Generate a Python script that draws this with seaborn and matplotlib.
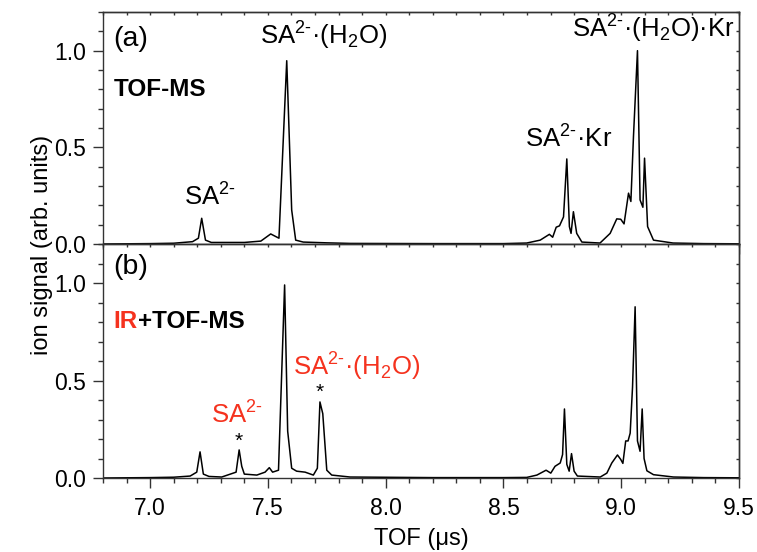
import matplotlib
matplotlib.use("Agg")
import matplotlib.pyplot as plt
import seaborn as sns
import pandas as pd
from matplotlib.ticker import MultipleLocator, NullFormatter

# ---- data ----
tof_a = [6.80, 7.00, 7.10, 7.18, 7.205, 7.219, 7.235, 7.26, 7.40, 7.47, 7.512, 7.547,
         7.58, 7.601, 7.618, 7.65, 7.75, 7.85, 8.20, 8.50, 8.599, 8.656, 8.695, 8.709,
         8.724, 8.738, 8.755, 8.769, 8.780, 8.787, 8.797, 8.811, 8.833, 8.91, 8.953,
         8.981, 8.998, 9.012, 9.031, 9.041, 9.052, 9.069, 9.080, 9.092, 9.099, 9.112,
         9.137, 9.22, 9.35, 9.50]
sig_a = [0.0, 0.002, 0.004, 0.012, 0.03, 0.133, 0.02, 0.008, 0.008, 0.015, 0.052, 0.03,
         0.948, 0.176, 0.02, 0.01, 0.006, 0.003, 0.002, 0.002, 0.005, 0.02, 0.05, 0.035,
         0.087, 0.094, 0.14, 0.44, 0.09, 0.055, 0.167, 0.055, 0.01, 0.005, 0.055,
         0.13, 0.128, 0.104, 0.263, 0.22, 0.556, 1.0, 0.228, 0.19, 0.444, 0.09,
         0.02, 0.005, 0.002, 0.001]

tof_b = [6.80, 7.00, 7.10, 7.17, 7.198, 7.212, 7.226, 7.25, 7.304, 7.365, 7.378, 7.389,
         7.40, 7.453, 7.488, 7.506, 7.52, 7.545, 7.571, 7.584, 7.601, 7.622, 7.658,
         7.693, 7.710, 7.721, 7.733, 7.75, 7.771, 7.849, 8.20, 8.50, 8.599, 8.642,
         8.681, 8.701, 8.719, 8.741, 8.751, 8.759, 8.769, 8.779, 8.789, 8.80, 8.814,
         8.911, 8.939, 8.96, 8.984, 8.998, 9.007, 9.019, 9.029, 9.038, 9.048, 9.059,
         9.069, 9.08, 9.089, 9.097, 9.109, 9.137, 9.222, 9.35, 9.50]
sig_b = [0.0, 0.002, 0.004, 0.01, 0.03, 0.134, 0.02, 0.008, 0.005, 0.03, 0.144, 0.06,
         0.02, 0.015, 0.03, 0.053, 0.03, 0.04, 0.99, 0.24, 0.05, 0.035, 0.03,
         0.015, 0.05, 0.39, 0.33, 0.04, 0.015, 0.005, 0.002, 0.002, 0.003, 0.015,
         0.04, 0.025, 0.06, 0.077, 0.12, 0.354, 0.07, 0.035, 0.125, 0.035, 0.01,
         0.005, 0.025, 0.077, 0.118, 0.095, 0.075, 0.19, 0.19, 0.23, 0.466, 0.878,
         0.19, 0.137, 0.354, 0.1, 0.037, 0.017, 0.005, 0.002, 0.001]

x_ticks = [7.0, 7.5, 8.0, 8.5, 9.0, 9.5]
y_ticks = [0.0, 0.5, 1.0]

RED = "#f5321e"
SUP = r"$^{\text{2-}}$"

sns.set_theme(style="ticks")
plt.rcParams["font.family"] = ["Liberation Sans", "DejaVu Sans"]
plt.rcParams["mathtext.fontset"] = "custom"
plt.rcParams["mathtext.rm"] = "Liberation Sans"
plt.rcParams["mathtext.it"] = "Liberation Sans"
plt.rcParams["mathtext.default"] = "regular"
plt.rcParams["text.color"] = "black"
plt.rcParams["axes.labelcolor"] = "black"

fig = plt.figure(figsize=(7.57, 5.52), dpi=100)
L, R = 103 / 757, 739 / 757
ya_top, y_mid, yb_bot = 1 - 12 / 552, 1 - 244 / 552, 1 - 478 / 552
ax_a = fig.add_axes([L, y_mid, R - L, ya_top - y_mid])
ax_b = fig.add_axes([L, yb_bot, R - L, y_mid - yb_bot])

df_a = pd.DataFrame({"tof": tof_a, "sig": sig_a})
df_b = pd.DataFrame({"tof": tof_b, "sig": sig_b})
sns.lineplot(data=df_a, x="tof", y="sig", ax=ax_a, color="black", lw=1.1, estimator=None)
sns.lineplot(data=df_b, x="tof", y="sig", ax=ax_b, color="black", lw=1.1, estimator=None)

TC = "#333333"
TICK_FS = 16.5
for ax in (ax_a, ax_b):
    ax.set_xlim(6.8, 9.5)
    ax.set_ylim(0, 1.2)
    ax.set_xticks(x_ticks)
    ax.set_yticks(y_ticks)
    ax.xaxis.set_minor_locator(MultipleLocator(0.1))
    ax.yaxis.set_minor_locator(MultipleLocator(0.1))
    ax.tick_params(which="major", direction="out", length=7, width=1, color=TC, pad=5,
                   labelsize=TICK_FS, labelcolor="black", bottom=True, left=True, top=False, right=False)
    ax.tick_params(which="minor", direction="out", length=3.6, width=1, color=TC,
                   bottom=True, left=True, top=False, right=False)
    ax.tick_params(axis="x", which="major", pad=6.5)
    ax.set_xlabel("")
    ax.set_ylabel("")
    for s in ax.spines.values():
        s.set_linewidth(1.0)
        s.set_color(TC)
    ax.set_yticklabels([f"{v:.1f}" for v in y_ticks])
    # inward mirror ticks on top and right
    sx = ax.secondary_xaxis("top")
    sx.set_xticks(x_ticks)
    sx.xaxis.set_minor_locator(MultipleLocator(0.1))
    sx.tick_params(which="both", direction="in", length=2.5, width=1, color=TC, labeltop=False)
    sx.xaxis.set_major_formatter(NullFormatter())
    sy = ax.secondary_yaxis("right")
    sy.set_yticks(y_ticks)
    sy.yaxis.set_minor_locator(MultipleLocator(0.1))
    sy.tick_params(which="both", direction="in", length=2.5, width=1, color=TC, labelright=False)
    sy.yaxis.set_major_formatter(NullFormatter())
    for s in list(sx.spines.values()) + list(sy.spines.values()):
        s.set_linewidth(1.0)
        s.set_color(TC)

ax_a.tick_params(axis="x", which="both", labelbottom=False)
ax_b.set_xticklabels([f"{v:.1f}" for v in x_ticks])

FS = 18.5
# annotations panel (a)
ax_a.text(6.845, 1.06, "(a)", fontsize=20.5, ha="left", va="center")
ax_a.text(6.845, 0.80, "TOF-MS", fontsize=17.5, fontweight="bold", ha="left", va="center")
ax_a.text(7.255, 0.245, "SA" + SUP, fontsize=FS, ha="center", va="center")
ax_a.text(7.735, 1.075, "SA" + SUP + r"·(H$_2$O)", fontsize=FS, ha="center", va="center")
ax_a.text(8.775, 0.545, "SA" + SUP + "·Kr", fontsize=FS, ha="center", va="center")
ax_a.text(9.135, 1.115, "SA" + SUP + r"·(H$_2$O)·Kr", fontsize=FS, ha="center", va="center")

# annotations panel (b)
ax_b.text(6.845, 1.08, "(b)", fontsize=20.5, ha="left", va="center")
ir = ax_b.text(6.845, 0.80, "IR", fontsize=17.5, fontweight="bold", color=RED, ha="left", va="center")
ax_b.annotate("+TOF-MS", xy=(1, 0.5), xycoords=ir, fontsize=17.5, fontweight="bold",
              ha="left", va="center")
ax_b.text(7.37, 0.325, "SA" + SUP, fontsize=FS, color=RED, ha="center", va="center")
ax_b.text(7.378, 0.19, "*", fontsize=15, ha="center", va="center")
ax_b.text(7.875, 0.57, "SA" + SUP + r"·(H$_2$O)", fontsize=FS, color=RED, ha="center", va="center")
ax_b.text(7.721, 0.44, "*", fontsize=15, ha="center", va="center")

ax_b.set_xlabel("TOF (μs)", fontsize=17)
ax_b.xaxis.label.set_va("center")
ax_b.xaxis.set_label_coords(0.5, -(539 - 478) / 234)
fig.text(42 / 757, (ya_top + yb_bot) / 2, "ion signal (arb. units)", rotation=90,
         fontsize=17, ha="center", va="center")

fig.savefig("out.png", dpi=100)
